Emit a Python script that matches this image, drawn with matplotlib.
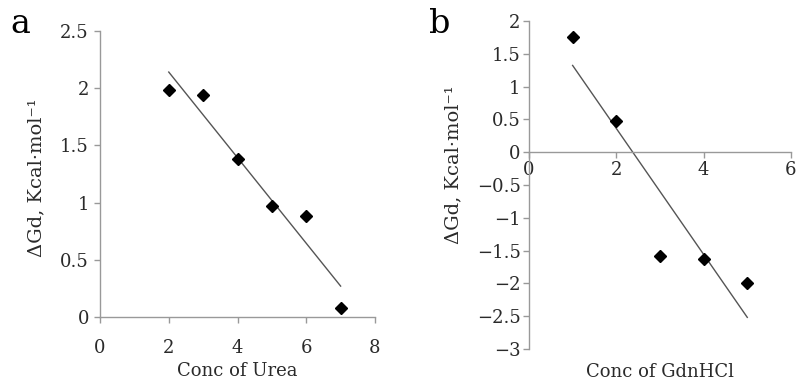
import numpy as np
import matplotlib
matplotlib.use("Agg")
import matplotlib.pyplot as plt

# Panel a: urea
urea_conc = [2, 3, 4, 5, 6, 7]
urea_dg = [1.98, 1.94, 1.38, 0.97, 0.88, 0.08]

# Panel b: GdnHCl
gdn_conc = [1, 2, 3, 4, 5]
gdn_dg = [1.75, 0.47, -1.58, -1.63, -2.0]

ylab = "ΔGd, Kcal·mol⁻¹"

plt.rcParams["font.family"] = ["DejaVu Serif"]
plt.rcParams["font.size"] = 13
axis_col = "#999999"
text_col = "#2a2a2a"

fig = plt.figure(figsize=(7.97, 3.81), dpi=100)


def style(ax):
    for s in ["top", "right"]:
        ax.spines[s].set_visible(False)
    for s in ["left", "bottom"]:
        ax.spines[s].set_color(axis_col)
        ax.spines[s].set_linewidth(1)
    ax.tick_params(colors=axis_col, labelcolor=text_col, length=4, width=1,
                   labelsize=13)


def draw(ax, x, y):
    # linear trendline
    k, b = np.polyfit(x, y, 1)
    xx = np.array([min(x), max(x)])
    ax.plot(xx, k * xx + b, color="#555555", lw=1.0)
    ax.plot(x, y, "D", color="black", ms=6.5, ls="none")


#Panel a
ax1 = fig.add_axes([0.1255, 0.168, 0.345, 0.751])
style(ax1)
draw(ax1, urea_conc, urea_dg)
ax1.set_xlim(0, 8)
ax1.set_ylim(0, 2.5)
ax1.set_xticks([0, 2, 4, 6, 8])
ax1.set_yticks([0, 0.5, 1, 1.5, 2, 2.5])
ax1.set_yticklabels(["0", "0.5", "1", "1.5", "2", "2.5"])
ax1.tick_params(axis="x", pad=12)
ax1.tick_params(axis="y", pad=4)
ax1.set_xlabel("Conc of Urea", color=text_col, fontsize=13)
ax1.xaxis.set_label_coords(0.5, -0.158)
ax1.set_ylabel(ylab, color=text_col, fontsize=14)
ax1.yaxis.set_label_coords(-0.2, 0.486)

#Panel b
ax2 = fig.add_axes([0.6637, 0.084, 0.3287, 0.861])
style(ax2)
draw(ax2, gdn_conc, gdn_dg)
ax2.spines["bottom"].set_position(("data", 0))
ax2.set_xlim(0, 6)
ax2.set_ylim(-3, 2)
ax2.set_xticks([0, 2, 4, 6])
ax2.set_yticks(np.arange(-3, 2.01, 0.5))
ax2.set_yticklabels(["−3", "−2.5", "−2", "−1.5", "−1", "−0.5",
                     "0", "0.5", "1", "1.5", "2"])
ax2.tick_params(axis="x", pad=2)
ax2.tick_params(axis="y", pad=2)
ax2.set_xlabel("Conc of GdnHCl", color=text_col, fontsize=13)
ax2.xaxis.set_label_coords(0.5, -0.043)
ax2.set_ylabel(ylab, color=text_col, fontsize=14)
ax2.yaxis.set_label_coords(-0.255, 0.561)

fig.text(0.013, 1 - 33 / 381, "a", fontsize=24, color="black", va="baseline")
fig.text(0.538, 1 - 33 / 381, "b", fontsize=24, color="black", va="baseline")

fig.savefig("out.png", dpi=100)
